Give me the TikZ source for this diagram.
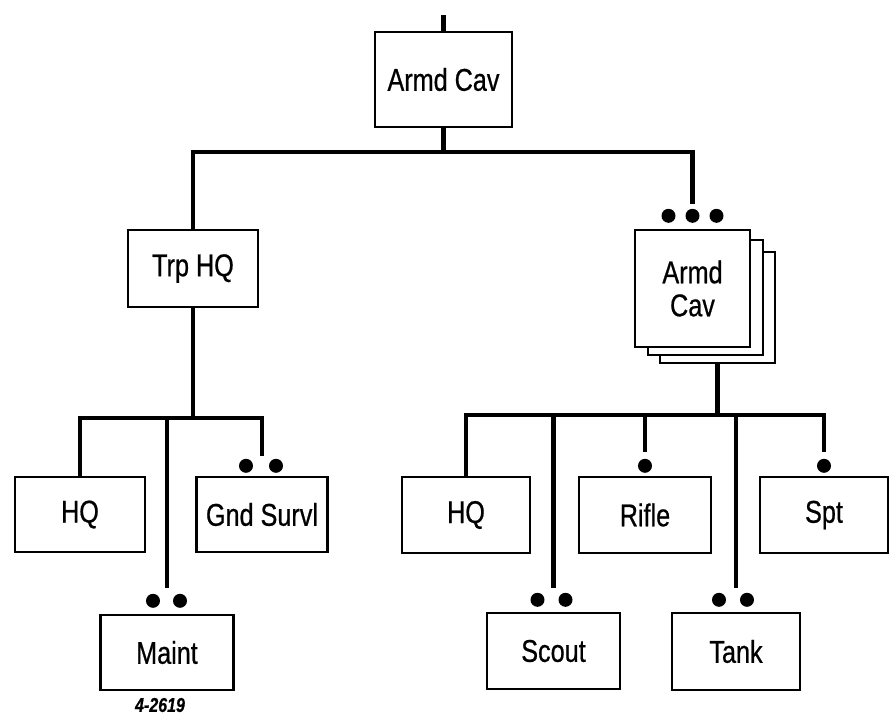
\documentclass[tikz,border=0pt]{standalone}
\usepackage{fontspec}
\setmainfont{Liberation Sans}[FakeStretch=0.8, FakeBold=0.6]
\usetikzlibrary{calc}
\begin{document}
\begin{tikzpicture}[x=1pt,y=-1pt,
  box/.style={draw, line width=2.4pt, fill=white, inner sep=0pt, align=center,
    font=\fontsize{31.5}{33}\selectfont},
  conn/.style={line width=4.8pt, line join=miter},
  dot/.style={fill=black, circle, inner sep=0pt, minimum size=14pt}]
\useasboundingbox (0,0) rectangle (895,718);
% nodes
\node[box, minimum width=137pt, minimum height=95pt] (acav) at (443.5,79.5) {Armd Cav};
\node[box, minimum width=130pt, minimum height=77pt] (trphq) at (193,268.5) {Trp HQ};
\node[box, minimum width=115pt, minimum height=111pt] (stack3) at (717.5,307.5) {};
\node[box, minimum width=115pt, minimum height=115pt] (stack2) at (705.5,297.5) {};
\node[box, minimum width=115pt, minimum height=117pt] (stack1) at (692.5,288.5) {Armd\\Cav};
\node[box, minimum width=130pt, minimum height=75pt] (lhq) at (80,514.5) {HQ};
\node[box, minimum width=133pt, minimum height=75pt] (maint) at (167,652.5) {Maint};
\node[box, minimum width=131pt, minimum height=75pt] (gnd) at (262,514.5) {Gnd Survl};
\node[box, minimum width=128pt, minimum height=76pt] (rhq) at (466,515) {HQ};
\node[box, minimum width=133pt, minimum height=76pt] (scout) at (553.5,651) {Scout};
\node[box, minimum width=132pt, minimum height=76pt] (rifle) at (645,515) {Rifle};
\node[box, minimum width=128pt, minimum height=77pt] (tank) at (736,651.5) {Tank};
\node[box, minimum width=128pt, minimum height=76pt] (spt) at (824,515) {Spt};
\node[font=\itshape\bfseries\fontsize{20}{21}\selectfont] (note) at (160,705) {4-2619};
% coordinates
\coordinate (topend) at (443.5,15);
\coordinate (b1) at (443.5,152);
\coordinate (stackend) at ([yshift=25pt]stack1.north);
\coordinate (lb) at (193,418);
\coordinate (rb) at (717.5,415);
\coordinate (gndend) at ([yshift=20pt]gnd.north);
\coordinate (maintend) at ([yshift=26pt]maint.north);
\coordinate (scoutend) at ([yshift=24pt]scout.north);
\coordinate (tankend) at ([yshift=24pt]tank.north);
\coordinate (rifleend) at ([yshift=24pt]rifle.north);
\coordinate (sptend) at ([yshift=24pt]spt.north);
% connectors
\draw[conn] (topend) -- (acav.north);
\draw[conn] (acav.south) -- (b1);
\draw[conn] (trphq.north) |- (b1) -| (stackend);
\draw[conn] (trphq.south) -- (lb);
\draw[conn] (lhq.north) |- (lb) -| (gndend);
\draw[conn] (maintend) -- (maintend |- lb);
\draw[conn] (stack3.south) -- (rb);
\draw[conn] (rhq.north) |- (rb) -| (sptend);
\draw[conn] (scoutend) -- (scoutend |- rb);
\draw[conn] (tankend) -- (tankend |- rb);
\draw[conn] (rifleend) -- (rifleend |- rb);
% dots
\node[dot] (s1) at ([xshift=-24pt,yshift=13pt]stack1.north) {};
\node[dot] (s2) at ([yshift=13pt]stack1.north) {};
\node[dot] (s3) at ([xshift=24pt,yshift=13pt]stack1.north) {};
\node[dot] (g1) at ([xshift=-16pt,yshift=10pt]gnd.north) {};
\node[dot] (g2) at ([xshift=14pt,yshift=10pt]gnd.north) {};
\node[dot] (m1) at ([xshift=-14pt,yshift=13pt]maint.north) {};
\node[dot] (m2) at ([xshift=13pt,yshift=13pt]maint.north) {};
\node[dot] (sc1) at ([xshift=-16pt,yshift=12pt]scout.north) {};
\node[dot] (sc2) at ([xshift=12pt,yshift=12pt]scout.north) {};
\node[dot] (t1) at ([xshift=-17pt,yshift=12pt]tank.north) {};
\node[dot] (t2) at ([xshift=11pt,yshift=12pt]tank.north) {};
\node[dot] (r1) at ([yshift=10pt]rifle.north) {};
\node[dot] (p1) at ([yshift=10pt]spt.north) {};
\end{tikzpicture}
\end{document}
